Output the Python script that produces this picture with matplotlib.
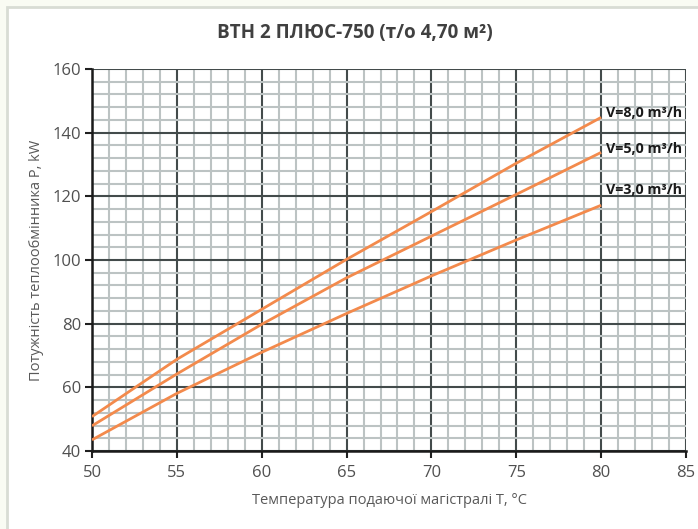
import matplotlib
matplotlib.use("Agg")
import matplotlib.pyplot as plt
from matplotlib.patches import Rectangle
from matplotlib.ticker import MultipleLocator

plt.rcParams['font.family'] = ['Open Sans', 'DejaVu Sans']

temps = [50, 55, 60, 65, 70, 75, 80]
v8 = [50.8, 68.8, 84.5, 100.2, 115.2, 130.4, 144.8]
v5 = [47.9, 64.2, 79.8, 94.4, 107.5, 120.6, 133.8]
v3 = [43.5, 58.1, 71.0, 83.2, 95.0, 106.3, 117.2]
series_labels = ["V=8,0 m³/h", "V=5,0 m³/h", "V=3,0 m³/h"]
title = "ВТН 2 ПЛЮС-750 (т/о 4,70 м²)"
xlabel = "Температура подаючої магістралі T, °C"
ylabel = "Потужність теплообмінника P, kW"

W, H = 698, 529
fig = plt.figure(figsize=(W / 100, H / 100), dpi=100)
fig.patch.set_facecolor('#f9fbf3')
fig.patches.append(Rectangle((7 / W, -0.1), 1.2, 1 - 7 / H + 0.1, transform=fig.transFigure,
                             facecolor='white', edgecolor='#d8dcd4', linewidth=2, zorder=-10))

ax = fig.add_axes([92 / W, 1 - 451 / H, (686 - 92) / W, (451 - 69) / H])
ax.set_facecolor('white')
ax.set_xlim(50, 85)
ax.set_ylim(40, 160)
ax.xaxis.set_major_locator(MultipleLocator(5))
ax.xaxis.set_minor_locator(MultipleLocator(1))
ax.yaxis.set_major_locator(MultipleLocator(20))
ax.yaxis.set_minor_locator(MultipleLocator(4))
ax.grid(which='minor', color='#bcc3c3', linewidth=1.5)
ax.grid(which='major', color='#434b4b', linewidth=1.5)
ax.set_axisbelow(True)
ax.tick_params(which='minor', length=0)
ax.tick_params(which='major', length=5, width=1.5, color='#202020',
               labelsize=12, labelcolor='#505050', pad=3)
ax.tick_params(axis='x', which='major', pad=5)
for s in ['top', 'right']:
    ax.spines[s].set_visible(False)
for s in ['left', 'bottom']:
    ax.spines[s].set_linewidth(1.8)
    ax.spines[s].set_color('#1a1a1a')

orange = '#f38a4c'
offsets = [1.5, 1.0, 4.8]
for ys, lab, off in zip([v8, v5, v3], series_labels, offsets):
    ax.plot(temps, ys, color=orange, linewidth=2, solid_capstyle='butt', zorder=3)
    ax.text(temps[-1] + 0.3, ys[-1] + off, lab, fontsize=10.3, fontweight='bold',
            color='#1a1a1a', va='center', ha='left', zorder=4)

fig.text(355 / W, 1 - 33 / H, title, fontsize=13.6, fontweight='bold', color='#404040',
         ha='center', va='center')
ax.set_xlabel(xlabel, fontsize=10.5, color='#595959', labelpad=9)
ax.set_ylabel(ylabel, fontsize=10.5, color='#595959', labelpad=6)

fig.savefig('out.png', dpi=100, facecolor=fig.get_facecolor())
